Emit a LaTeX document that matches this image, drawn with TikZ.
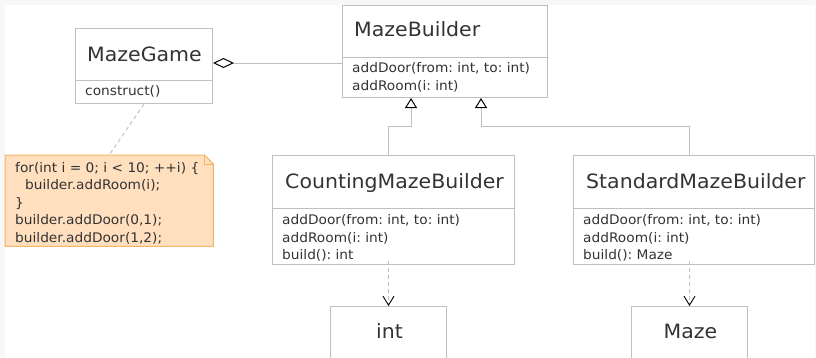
\documentclass[tikz,border=0pt]{standalone}
\usepackage{fontspec}
\setmainfont[FakeStretch=1.04]{DejaVu Sans}
\usetikzlibrary{arrows.meta}
\definecolor{bgc}{HTML}{F7F7F7}
\definecolor{bdc}{HTML}{BFBFBF}
\definecolor{txc}{HTML}{333333}
\definecolor{notefill}{HTML}{FFDFBE}
\definecolor{notebd}{HTML}{F3B56A}
\frenchspacing
\tikzset{
  cls/.style={draw=bdc, line width=1pt, fill=white, rectangle, inner sep=0pt, anchor=north west},
  ttl/.style={text=txc, inner sep=0pt, anchor=base west, font=\fontsize{19.7}{23}\selectfont},
  mem/.style={text=txc, inner sep=0pt, anchor=base west, font=\fontsize{13.2}{16}\selectfont},
  divider/.style={draw=bdc, line width=1pt},
  conn/.style={draw=bdc, line width=1pt},
  gen/.style={conn, -{Triangle[length=10pt,width=12pt,color=black,fill=white,line width=1pt]}},
  agg/.style={conn, {Diamond[length=21pt,width=10pt,color=black,fill=white,line width=1pt]}-},
  dep/.style={conn, dash pattern=on 4pt off 3pt, -{Straight Barb[length=9pt,width=11pt,color=black,line width=0.9pt]}},
  notelink/.style={draw=bdc, line width=0.9pt, dash pattern=on 4pt off 3pt},
}
\begin{document}
\frenchspacing
\begin{tikzpicture}[x=1pt,y=-1pt]
\useasboundingbox (0,0) rectangle (816,357);
\clip (0,0) rectangle (816,357);
\fill[bgc] (0,0) rectangle (816,357);
\fill[white] (5,5) rectangle (815,360);

% boxes
\node[cls, minimum width=137, minimum height=75] (mg) at (75,28) {};
\node[cls, minimum width=205, minimum height=92] (mb) at (342,5) {};
\node[cls, minimum width=242, minimum height=109] (cmb) at (272,155) {};
\node[cls, minimum width=241, minimum height=109] (smb) at (573,155) {};
\node[cls, minimum width=116, minimum height=70] (int) at (330,306) {};
\node[cls, minimum width=116, minimum height=70] (maze) at (631,306) {};

% dividers
\draw[divider] (mg.west |- 0,80) -- (mg.east |- 0,80);
\draw[divider] (mb.west |- 0,57) -- (mb.east |- 0,57);
\draw[divider] (cmb.west |- 0,208) -- (cmb.east |- 0,208);
\draw[divider] (smb.west |- 0,208) -- (smb.east |- 0,208);

% titles
\node[ttl] (mgt) at (87,61.5) {MazeGame};
\node[ttl] (mbt) at (354,36.7) {MazeBuilder};
\node[ttl] (cmbt) at (285,188.3) {CountingMazeBuilder};
\node[ttl] (smbt) at (586,188.3) {StandardMazeBuilder};
\node[ttl, anchor=base] (intt) at (389.5,338.3) {int};
\node[ttl, anchor=base] (mazet) at (690.5,338.3) {Maze};

% members
\node[mem] (mg1) at (85,95.5) {construct()};
\node[mem] (mb1) at (352,72.3) {addDoor(from: int, to: int)};
\node[mem] (mb2) at (352,90) {addRoom(i: int)};
\node[mem] (cm1) at (282,224.3) {addDoor(from: int, to: int)};
\node[mem] (cm2) at (282,242) {addRoom(i: int)};
\node[mem] (cm3) at (282,259.7) {build(): int};
\node[mem] (sm1) at (583,224.3) {addDoor(from: int, to: int)};
\node[mem] (sm2) at (583,242) {addRoom(i: int)};
\node[mem] (sm3) at (583,259.7) {build(): Maze};

% note
\node[inner sep=0pt, minimum width=208, minimum height=91, anchor=north west] (nt) at (5,155) {};
\draw[notebd, fill=notefill, line width=1pt, line join=miter]
  (nt.north west) -- ([xshift=-9pt]nt.north east) -- ([yshift=-9pt]nt.north east)
  -- (nt.south east) -- (nt.south west) -- cycle;
\draw[notebd, line width=1pt] ([xshift=-9pt]nt.north east) -- ([xshift=-9pt,yshift=-9pt]nt.north east) -- ([yshift=-9pt]nt.north east);
\node[mem] (n1) at (15,172) {for(int i = 0; i < 10; ++i) \{};
\node[mem] (n2) at (25,189.5) {builder.addRoom(i);};
\node[mem] (n3) at (15,207) {\}};
\node[mem] (n4) at (15,224.5) {builder.addDoor(0,1);};
\node[mem] (n5) at (15,242) {builder.addDoor(1,2);};
\draw[notelink] (mg.south) -- (nt.north);

% aggregation
\draw[agg] (mg.east |- 0,63) -- (mb.west |- 0,63);

% generalizations
\coordinate (k1) at (411,126);
\coordinate (k2) at (481,126);
\draw[gen] (cmb.north -| 388,0) |- (k1) -- (mb.south -| k1);
\draw[gen] (smb.north -| 689,0) |- (k2) -- (mb.south -| k2);

% dependencies
\coordinate (d1) at (int.north |- cmb.south);
\coordinate (d2) at (maze.north |- smb.south);
\draw[dep] ([yshift=4pt]d1) -- (int.north);
\draw[dep] ([yshift=4pt]d2) -- (maze.north);
\end{tikzpicture}
\end{document}
